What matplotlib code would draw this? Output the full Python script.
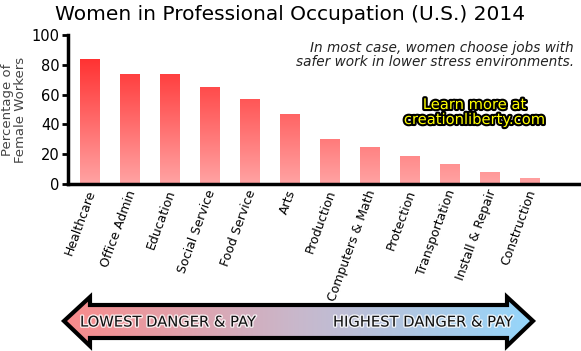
import numpy as np
import matplotlib
matplotlib.use("Agg")
import matplotlib.pyplot as plt
import matplotlib.patheffects as pe
import matplotlib.transforms as mtrans
from matplotlib.patches import Polygon
from matplotlib.colors import LinearSegmentedColormap

categories = ["Healthcare", "Office Admin", "Education", "Social Service", "Food Service",
              "Arts", "Production", "Computers & Math", "Protection", "Transportation",
              "Install & Repair", "Construction"]
values = [84, 74, 74, 65, 57, 47, 30, 25, 19, 13.5, 8, 4]
yticks = [0, 20, 40, 60, 80, 100]

W, H = 581, 351
fig = plt.figure(figsize=(W / 100, H / 100), dpi=100)

# main axes
ax = fig.add_axes([68 / W, 167 / H, (580 - 68) / W, 149 / H])
x = np.arange(len(categories))
bars = ax.bar(x, values, width=0.5, color="none", edgecolor="none")

# gradient over the whole 0-100 range, clipped per bar
bar_cmap = LinearSegmentedColormap.from_list("barg", ["#ffa3a3", "#ff1c1c"])
grad = np.linspace(0, 1, 256).reshape(-1, 1)
for b in bars:
    im = ax.imshow(grad, cmap=bar_cmap, origin="lower", aspect="auto",
                   extent=[b.get_x(), b.get_x() + b.get_width(), 0, 100], zorder=2)
    im.set_clip_path(b)

ax.set_xlim(-0.55, 12.25)
ax.set_ylim(0, 100)
ax.set_yticks(yticks)
ax.set_xticks(x)
ax.set_xticklabels(categories, rotation=70, ha="right", rotation_mode="anchor", fontsize=9)
ax.tick_params(axis="x", length=0, pad=3)
# nudge the rotated labels a bit to the left
shift = mtrans.ScaledTranslation(-4 / 100, 0, fig.dpi_scale_trans)
for lbl in ax.get_xticklabels():
    lbl.set_transform(lbl.get_transform() + shift)
ax.tick_params(axis="y", length=4, width=2, labelsize=10.5, pad=2)
for s in ["top", "right"]:
    ax.spines[s].set_visible(False)
for s in ["left", "bottom"]:
    ax.spines[s].set_linewidth(2.5)
ax.set_ylabel("Percentage of\nFemale Workers", color="#444444", fontsize=9.5, linespacing=1.05, labelpad=3)

fig.text(0.5, 1 - 15 / H, "Women in Professional Occupation (U.S.) 2014",
         ha="center", va="center", fontsize=14.5)

fig.text(574 / W, 1 - 55 / H, "In most case, women choose jobs with\nsafer work in lower stress environments.",
         ha="right", va="center", fontsize=9.8, style="italic", color="#222222", linespacing=1.05)

fig.text(475 / W, 1 - 112 / H, "Learn more at\ncreationliberty.com", ha="center", va="center",
         fontsize=10.6, color="#ffff00", linespacing=1.0,
         path_effects=[pe.withStroke(linewidth=3, foreground="black")])

# double arrow
ov = fig.add_axes([0, 0, 1, 1])
ov.set_xlim(0, W)
ov.set_ylim(H, 0)
ov.axis("off")
pts = [(64, 321), (90, 297), (90, 305), (507, 305), (507, 297), (533, 321),
       (507, 346), (507, 338), (90, 338), (90, 346)]
arrow = Polygon(pts, closed=True, facecolor="none", edgecolor="black", linewidth=3, zorder=3,
                joinstyle="miter")
ov.add_patch(arrow)
arr_cmap = LinearSegmentedColormap.from_list("arrg", ["#f98a8a", "#c8b8cc", "#95d6fb"])
gimg = ov.imshow(np.linspace(0, 1, 256).reshape(1, -1), cmap=arr_cmap, aspect="auto",
                 extent=[64, 533, 346, 297], zorder=2)
gimg.set_clip_path(arrow)
glow = [pe.withStroke(linewidth=2, foreground=(1, 1, 1, 0.8))]
ov.text(80, 322, "LOWEST DANGER & PAY", ha="left", va="center", fontsize=10.6, zorder=4,
        color="#111111", path_effects=glow)
ov.text(514, 322, "HIGHEST DANGER & PAY", ha="right", va="center", fontsize=10.6, zorder=4,
        color="#111111", path_effects=glow)

fig.savefig("out.png", dpi=100)
